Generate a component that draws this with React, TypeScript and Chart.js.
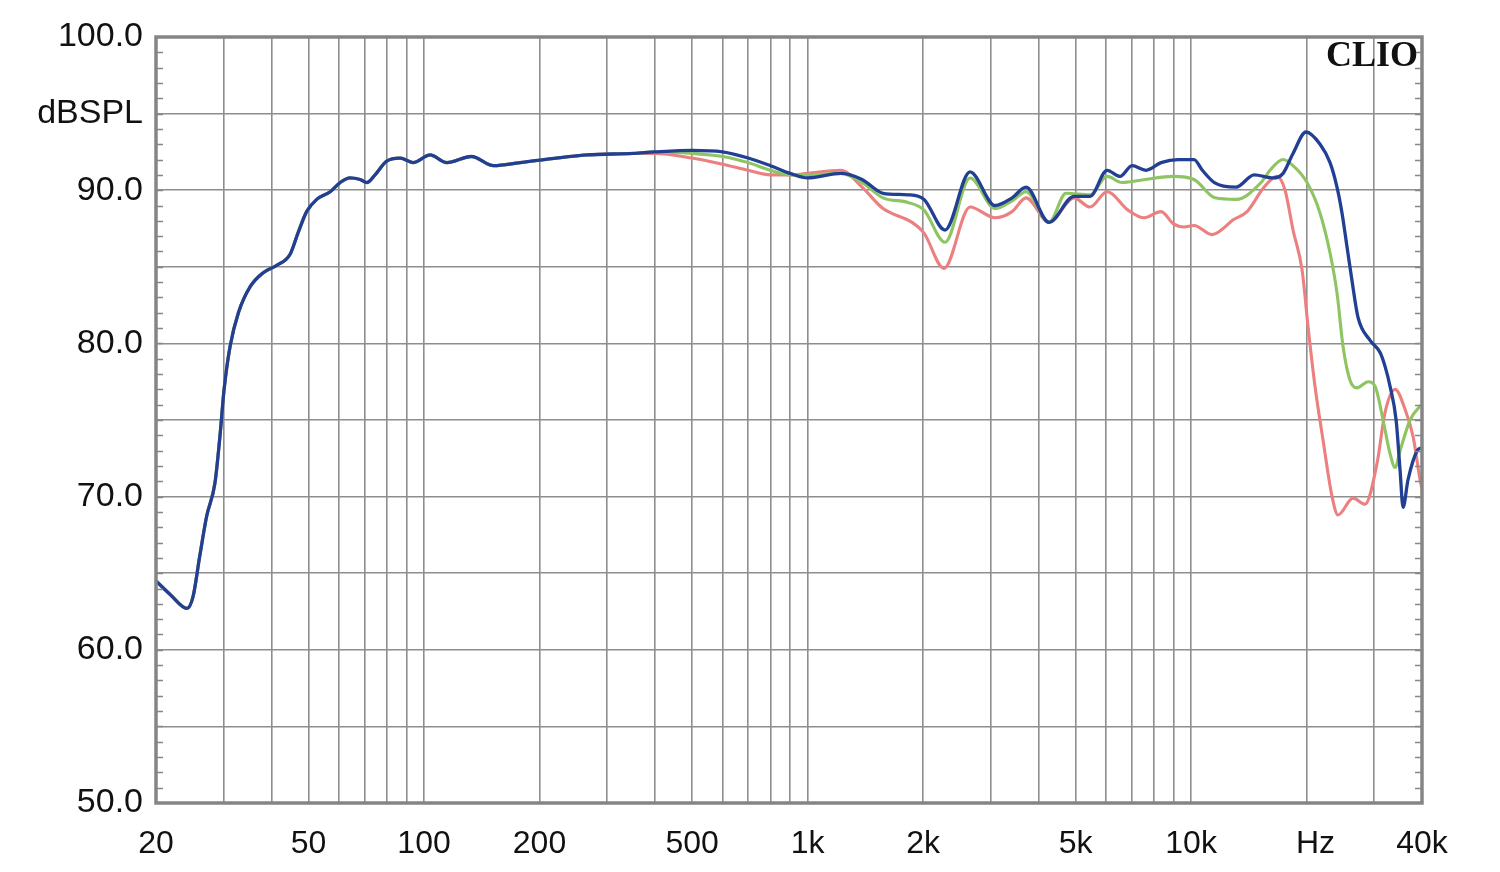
import React, { useEffect, useRef } from "react";
import { Chart, registerables } from "chart.js";

Chart.register(...registerables);

// Shared low-frequency part (all three curves coincide)
const lowFreqs = [20, 21.8, 24.1, 25.0, 26.0, 27.1, 28.5, 29.4, 30.1, 31.2, 32.8, 35.2, 38.0, 41.3, 44.7, 46.9, 49.4, 52.5, 56.9, 60.4, 64.1, 68.1, 70.9, 74.5, 79.9, 86.6, 93.6, 103.7, 114.6, 132.9, 151.9, 178, 266, 350];
const lowSpl = [64.5, 63.6, 62.7, 63.5, 66.1, 68.7, 70.9, 74.1, 77.0, 79.8, 82.0, 83.7, 84.6, 85.1, 85.8, 87.2, 88.6, 89.4, 89.9, 90.5, 90.8, 90.7, 90.5, 91.0, 91.9, 92.1, 91.8, 92.3, 91.8, 92.2, 91.6, 91.8, 92.3, 92.4];

const blueFreqs = [400, 500, 600, 700, 800, 900, 1000, 1222, 1387, 1573, 1828, 2012, 2282, 2652, 3083, 3414, 3712, 4262, 4952, 5453, 6038, 6528, 7015, 7630, 8350, 9247, 10176, 10700, 11500, 13102, 14600, 16357, 17370, 18440, 19940, 21690, 23030, 24010, 24750, 25500, 26270, 27240, 29290, 31100, 32040, 33020, 34240, 35070, 35700, 36780, 38850, 40000];
const blueSpl = [92.5, 92.6, 92.5, 92.1, 91.6, 91.1, 90.8, 91.1, 90.7, 89.8, 89.7, 89.4, 87.4, 91.2, 89.0, 89.5, 90.2, 87.9, 89.6, 89.6, 91.3, 90.9, 91.6, 91.3, 91.8, 92.0, 92.0, 91.3, 90.5, 90.2, 91.0, 90.8, 91.1, 92.4, 93.8, 93.0, 91.8, 90.2, 88.5, 86.3, 84.1, 81.7, 80.2, 79.4, 78.5, 77.2, 75.0, 71.7, 69.3, 71.1, 73.0, 73.2];

const greenFreqs = [400, 500, 600, 700, 800, 900, 1000, 1222, 1387, 1573, 1828, 2012, 2282, 2652, 3083, 3414, 3712, 4262, 4720, 5453, 6038, 6600, 7600, 8974, 10176, 11548, 13102, 15220, 16060, 17370, 18440, 20060, 21690, 23030, 24010, 24900, 25960, 27080, 28940, 30180, 31660, 33020, 34040, 35070, 37240, 39540, 40000];
const greenSpl = [92.5, 92.4, 92.2, 91.8, 91.3, 91.0, 91.0, 91.1, 90.5, 89.5, 89.2, 88.7, 86.6, 90.8, 88.8, 89.3, 89.9, 87.9, 89.8, 89.7, 90.9, 90.5, 90.7, 90.9, 90.7, 89.5, 89.4, 90.5, 91.3, 92.0, 91.6, 90.5, 88.5, 85.9, 83.3, 79.8, 77.6, 77.1, 77.5, 77.2, 75.0, 72.8, 71.9, 73.0, 75.0, 75.9, 76.0];

const redFreqs = [400, 500, 600, 700, 800, 900, 1000, 1222, 1387, 1573, 1872, 2012, 2268, 2652, 3083, 3414, 3712, 4262, 4952, 5453, 6038, 6850, 7540, 8350, 9000, 9586, 10176, 11340, 12940, 13994, 15500, 16756, 17580, 18440, 19470, 20180, 21040, 22080, 23310, 24160, 26440, 28420, 30550, 32040, 34040, 36130, 37930, 39540, 40000];
const redSpl = [92.4, 92.1, 91.7, 91.3, 91.0, 91.0, 91.1, 91.3, 90.2, 88.8, 87.9, 87.2, 84.9, 88.9, 88.2, 88.6, 89.5, 87.9, 89.5, 88.9, 89.9, 88.7, 88.2, 88.6, 87.8, 87.6, 87.7, 87.1, 88.1, 88.6, 90.2, 90.9, 90.0, 87.4, 84.8, 81.1, 77.2, 73.7, 70.0, 68.8, 69.9, 69.5, 72.2, 75.5, 77.0, 75.7, 73.9, 71.1, 70.5];

// Axis ticks
const gridFreqs = [20, 30, 40, 50, 60, 70, 80, 90, 100, 200, 300, 400, 500, 600, 700, 800, 900, 1000, 2000, 3000, 4000, 5000, 6000, 7000, 8000, 9000, 10000, 20000, 30000, 40000];
const xLabelValues = [20, 50, 100, 200, 500, 1000, 2000, 5000, 10000, 20000, 40000];
const xLabelTexts = ["20", "50", "100", "200", "500", "1k", "2k", "5k", "10k", "  Hz", "40k"];
const yLabelValues = [100, 95, 90, 80, 70, 60, 50];
const yLabelTexts = ["100.0", "dBSPL", "90.0", "80.0", "70.0", "60.0", "50.0"];

const toPoints = (fs: number[], vs: number[]) => fs.map((f, i) => ({ x: f, y: vs[i] }));

const framePlugin = {
  id: "frame",
  afterDatasetsDraw(chart: any) {
    const { ctx, chartArea } = chart;
    const { left, right, top, bottom } = chartArea;
    const yScale = chart.scales.y;
    ctx.save();
    ctx.strokeStyle = "#878787";
    ctx.lineWidth = 1.5;
    for (let v = 51; v < 100; v++) {
      const py = Math.round(yScale.getPixelForValue(v)) + 0.5;
      ctx.beginPath();
      ctx.moveTo(left, py);
      ctx.lineTo(left + 7, py);
      ctx.moveTo(right - 7, py);
      ctx.lineTo(right, py);
      ctx.stroke();
    }
    ctx.lineWidth = 3.5;
    ctx.strokeStyle = "#858585";
    ctx.strokeRect(left, top, right - left, bottom - top);
    ctx.fillStyle = "#111";
    ctx.font = "bold 36px 'Liberation Serif', 'DejaVu Serif', serif";
    ctx.textAlign = "right";
    ctx.textBaseline = "alphabetic";
    ctx.fillText("CLIO", right - 4, top + 29);
    ctx.restore();
  },
};

export default function App() {
  const ref = useRef<HTMLCanvasElement | null>(null);
  useEffect(() => {
    if (!ref.current) return;
    const chart = new Chart(ref.current, {
      type: "line",
      data: {
        datasets: [
          {
            label: "blue",
            data: toPoints([...lowFreqs, ...blueFreqs], [...lowSpl, ...blueSpl]),
            borderColor: "#213f93",
            borderWidth: 3.3,
          },
          {
            label: "green",
            data: toPoints([...lowFreqs, ...greenFreqs], [...lowSpl, ...greenSpl]),
            borderColor: "#8ec462",
            borderWidth: 3.1,
          },
          {
            label: "red",
            data: toPoints([...lowFreqs, ...redFreqs], [...lowSpl, ...redSpl]),
            borderColor: "#ec7f7f",
            borderWidth: 3.1,
          },
        ],
      },
      options: {
        responsive: false,
        animation: false,
        parsing: false as any,
        layout: { padding: { top: 37, right: 78, left: 0, bottom: 0 } },
        elements: {
          point: { radius: 0, hoverRadius: 0 },
          line: { cubicInterpolationMode: "monotone", fill: false },
        },
        plugins: {
          legend: { display: false },
          tooltip: { enabled: false },
        },
        scales: {
          x: {
            type: "logarithmic",
            min: 20,
            max: 40000,
            border: { display: false },
            grid: { color: "#8e8e8e", lineWidth: 1.6, drawTicks: false },
            afterBuildTicks: (scale: any) => {
              scale.ticks = gridFreqs.map((v) => ({ value: v }));
            },
            afterFit: (scale: any) => {
              scale.height = 69;
            },
            ticks: {
              autoSkip: false,
              maxRotation: 0,
              minRotation: 0,
              padding: 22,
              color: "#111",
              font: { family: "'Liberation Sans', Arial, sans-serif", size: 32 },
              callback: (value: any) => {
                const i = xLabelValues.indexOf(Number(value));
                return i >= 0 ? xLabelTexts[i] : "";
              },
            },
          },
          y: {
            type: "linear",
            min: 50,
            max: 100,
            border: { display: false },
            grid: { color: "#8e8e8e", lineWidth: 1.6, drawTicks: false },
            afterFit: (scale: any) => {
              scale.width = 156;
            },
            ticks: {
              stepSize: 5,
              padding: 13,
              color: "#111",
              font: { family: "'Liberation Sans', Arial, sans-serif", size: 34 },
              callback: (value: any) => {
                const i = yLabelValues.indexOf(Number(value));
                return i >= 0 ? yLabelTexts[i] : "";
              },
            },
          },
        },
      },
      plugins: [framePlugin],
    });
    return () => chart.destroy();
  }, []);
  return (
    <div style={{ position: "absolute", left: 0, top: 0, width: 1500, height: 872, background: "#fff" }}>
      <canvas ref={ref} width={1500} height={872} style={{ display: "block" }} />
    </div>
  );
}
